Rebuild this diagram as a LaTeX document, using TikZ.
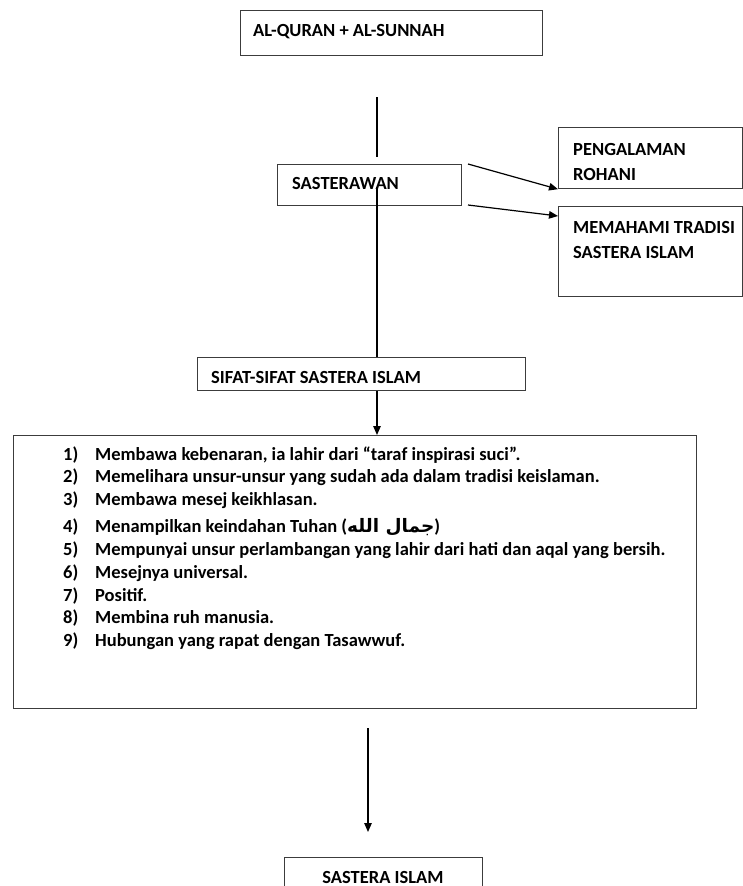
\documentclass[tikz,border=0pt]{standalone}
\usepackage{fontspec}
\setmainfont{Carlito}
\newfontfamily\arabicfont[Script=Arabic]{DejaVu Sans}
\TeXXeTstate=1
\usetikzlibrary{arrows.meta}
\definecolor{boxgray}{HTML}{3C3C3C}
\begin{document}
\begin{tikzpicture}[x=1pt,y=-1pt,
  box/.style={draw=boxgray, line width=1.2pt, inner sep=0pt, anchor=north west},
  lbl/.style={font=\fontsize{18.5}{22}\selectfont\bfseries, inner sep=0pt, anchor=base west},
  clbl/.style={lbl, anchor=base},
  conn/.style={line width=1.2pt, black},
  arr/.style={conn, -{Triangle[length=9pt,width=7.5pt]}}]
\clip (0,0) rectangle (743,886);
\fill[white] (0,0) rectangle (743,886);

% boxes
\node[box, minimum width=302pt, minimum height=45pt] (quran) at (240,10) {};
\node[box, minimum width=184pt, minimum height=41pt] (sast) at (277,164) {};
\node[box, minimum width=184pt, minimum height=61pt] (peng) at (558,127) {};
\node[box, minimum width=184pt, minimum height=90pt] (mem) at (558,206) {};
\node[box, minimum width=328pt, minimum height=33pt] (sifat) at (197,357) {};
\node[box, minimum width=683pt, minimum height=273pt] (list) at (13,435) {};
\node[box, minimum width=198pt, minimum height=60pt] (islam) at (284,857) {};

% texts
\node[lbl] (quranT) at (253,36) {AL-QURAN + AL-SUNNAH};
\node[lbl] (sastT) at (292,189) {SASTERAWAN};
\node[lbl] (pengT1) at (573,155) {PENGALAMAN};
\node[lbl] (pengT2) at (573,180) {ROHANI};
\node[lbl] (memT1) at (573,233) {MEMAHAMI TRADISI};
\node[lbl] (memT2) at (573,258) {SASTERA ISLAM};
\node[lbl] (sifatT) at (211,383) {SIFAT-SIFAT SASTERA ISLAM};
\node[clbl] (islamT) at (383,883) {SASTERA ISLAM};

% list
\node[lbl] (n1) at (63,460) {1)};
\node[lbl] (t1) at (95,460) {Membawa kebenaran, ia lahir dari “taraf inspirasi suci”.};
\node[lbl] (n2) at (63,482.5) {2)};
\node[lbl] (t2) at (95,482.5) {Memelihara unsur-unsur yang sudah ada dalam tradisi keislaman.};
\node[lbl] (n3) at (63,505) {3)};
\node[lbl] (t3) at (95,505) {Membawa mesej keikhlasan.};
\node[lbl] (n4) at (63,532) {4)};
\node[lbl] (t4) at (95,532) {Menampilkan keindahan Tuhan ({\arabicfont\beginR جمال الله\endR})};
\node[lbl] (n5) at (63,555) {5)};
\node[lbl] (t5) at (95,555) {Mempunyai unsur perlambangan yang lahir dari hati dan aqal yang bersih.};
\node[lbl] (n6) at (63,578) {6)};
\node[lbl] (t6) at (95,578) {Mesejnya universal.};
\node[lbl] (n7) at (63,601) {7)};
\node[lbl] (t7) at (95,601) {Positif.};
\node[lbl] (n8) at (63,623.5) {8)};
\node[lbl] (t8) at (95,623.5) {Membina ruh manusia.};
\node[lbl] (n9) at (63,646) {9)};
\node[lbl] (t9) at (95,646) {Hubungan yang rapat dengan Tasawwuf.};

% connectors
\coordinate (v1a) at (377,97);
\coordinate (v1b) at (377,157);
\draw[conn] (v1a) -- (v1b);
\coordinate (v2a) at (377,187);
\draw[conn] (v2a) -- (v2a |- sifat.north);
\draw[arr] (sifat.south -| v2a) -- (list.north -| v2a);
\coordinate (a1s) at (468,164);
\draw[arr] (a1s) -- (peng.south west);
\coordinate (a2s) at (468,205);
\coordinate (a2e) at (558,216);
\draw[arr] (a2s) -- (a2e);
\coordinate (v3a) at (368,728);
\coordinate (v3b) at (368,832);
\draw[arr] (v3a) -- (v3b);
\end{tikzpicture}
\end{document}
